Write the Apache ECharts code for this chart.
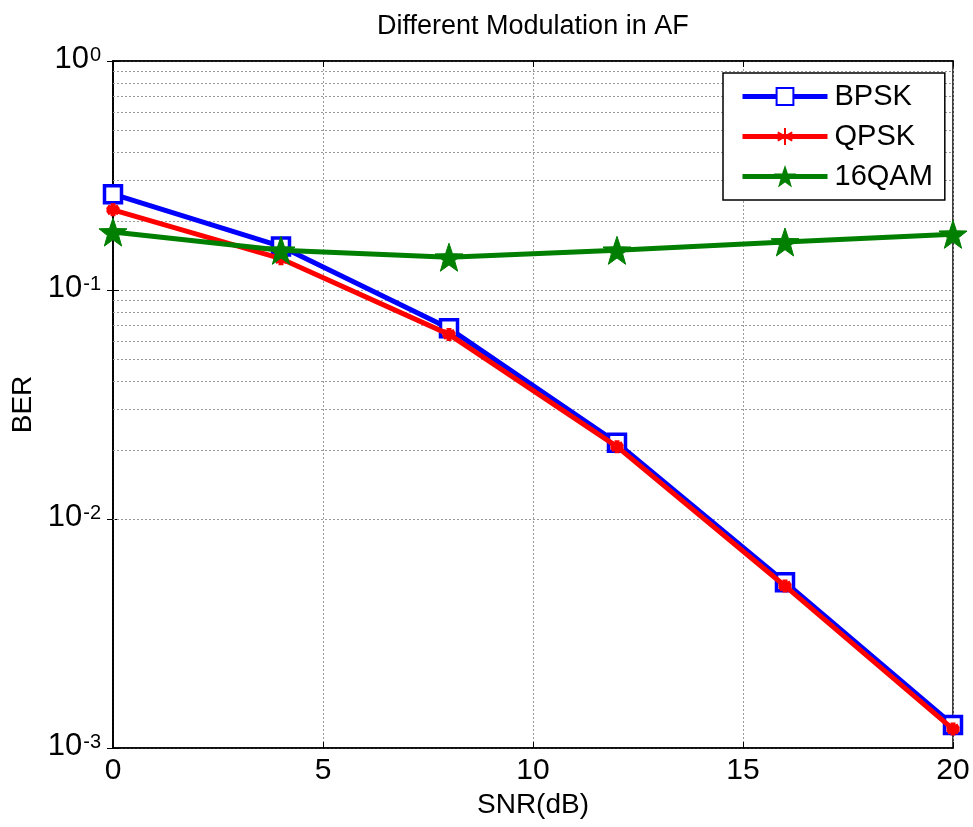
<!DOCTYPE html>
<html>
<head>
<meta charset="utf-8">
<script src="https://cdn.jsdelivr.net/npm/echarts@6/dist/echarts.min.js"></script>
<style>
  html, body { margin: 0; padding: 0; background: #fff; }
  #chart { width: 973px; height: 827px; }
</style>
</head>
<body>
<div id="chart"></div>
<script>
// SNR points (dB)
let snr = [0, 4, 8, 12, 16, 20];
let bpsk = [0.262, 0.155, 0.068, 0.0215, 0.0053, 0.00126];
let qpsk = [0.224, 0.137, 0.064, 0.0207, 0.0051, 0.00121];
let qam16 = [0.179, 0.149, 0.139, 0.149, 0.162, 0.175];
let decades = [0.001, 0.01, 0.1];
let minorSteps = [2, 3, 4, 5, 6, 7, 8, 9];

let font = "'Liberation Sans', Arial, sans-serif";

// minor grid lines of the log axis (MATLAB style)
let minorLines = [];
for (let i = 0; i < decades.length; i++) {
  for (let j = 0; j < minorSteps.length; j++) {
    minorLines.push({yAxis: +(decades[i] * minorSteps[j]).toPrecision(3)});
  }
}

function pairs(vals) {
  let out = [];
  for (let i = 0; i < snr.length; i++) {
    out.push([snr[i], vals[i]]);
  }
  return out;
}

let chart = echarts.init(document.getElementById('chart'));

let gridLine = {show: true, lineStyle: {color: '#9a9a9a', type: [2, 2], width: 1}};

let options = {
  animation: false,
  backgroundColor: '#fff',
  color: ['#999', '#0000ff', '#ff0000', '#007f00'],
  title: {
    text: 'Different Modulation in AF',
    left: 372,
    top: 8,
    textStyle: {fontFamily: font, fontWeight: 'normal', fontSize: 27, color: '#000'}
  },
  legend: {
    orient: 'vertical',
    left: 723,
    top: 73,
    z: 20,
    padding: [8, 12, 8, 17],
    backgroundColor: '#fff',
    borderColor: '#000',
    borderWidth: 1.5,
    itemWidth: 85,
    itemHeight: 21,
    itemGap: 9,
    lineStyle: {width: 5, type: 'solid'},
    textStyle: {fontFamily: font, fontSize: 29, lineHeight: 31, color: '#000', padding: [0, 0, 0, 2]},
    data: ['BPSK', 'QPSK', '16QAM']
  },
  grid: {
    left: 113,
    right: 20,
    top: 61,
    bottom: 79,
    show: true,
    borderColor: '#000',
    borderWidth: 1.5
  },
  xAxis: [{
    type: 'value',
    min: 0,
    max: 20,
    interval: 5,
    name: 'SNR(dB)',
    nameLocation: 'middle',
    nameGap: 37,
    nameTextStyle: {fontFamily: font, fontSize: 28, color: '#000'},
    axisLine: {lineStyle: {color: '#000', width: 1.5}},
    axisTick: {inside: true, length: 6, lineStyle: {color: '#000'}},
    axisLabel: {fontFamily: font, fontSize: 30, color: '#000', margin: 8},
    splitLine: gridLine
  }, {
    type: 'value',
    position: 'top',
    min: 0,
    max: 20,
    interval: 5,
    axisLine: {lineStyle: {color: '#000', width: 1.5}},
    axisTick: {inside: true, length: 6, lineStyle: {color: '#000'}},
    axisLabel: {show: false},
    splitLine: {show: false}
  }],
  yAxis: [{
    type: 'log',
    logBase: 10,
    min: 0.001,
    max: 1,
    name: 'BER',
    nameLocation: 'middle',
    nameGap: 64,
    nameTextStyle: {fontFamily: font, fontSize: 28, color: '#000'},
    axisLine: {lineStyle: {color: '#000', width: 1.5}},
    axisTick: {inside: true, length: 6, lineStyle: {color: '#000'}},
    axisLabel: {
      margin: 12,
      padding: [0, 0, 2, 0],
      formatter: function (v) {
        let e = Math.round(Math.log10(v));
        return '{b|10}{s|' + e + '}';
      },
      rich: {
        b: {fontFamily: font, fontSize: 31, color: '#000', verticalAlign: 'bottom', lineHeight: 30},
        s: {fontFamily: font, fontSize: 20, color: '#000', verticalAlign: 'top', lineHeight: 30, padding: [0, 0, 13, 1]}
      }
    },
    splitLine: gridLine
  }, {
    type: 'log',
    logBase: 10,
    min: 0.001,
    max: 1,
    position: 'right',
    axisLine: {lineStyle: {color: '#000', width: 1.5}},
    axisTick: {inside: true, length: 6, lineStyle: {color: '#000'}},
    axisLabel: {show: false},
    splitLine: {show: false}
  }],
  series: [
    {
      // carrier for the minor grid lines only
      name: 'minor',
      type: 'line',
      data: [],
      z: 1,
      markLine: {
        silent: true,
        z: 1,
        symbol: 'none',
        label: {show: false},
        lineStyle: {color: '#9a9a9a', type: [2, 2], width: 1},
        data: minorLines
      }
    },
    {
      name: 'BPSK',
      type: 'line',
      data: pairs(bpsk),
      symbol: 'rect',
      symbolSize: 17,
      z: 3,
      lineStyle: {color: '#0000ff', width: 5},
      itemStyle: {color: '#fff', borderColor: '#0000ff', borderWidth: 3.5}
    },
    {
      name: 'QPSK',
      type: 'line',
      data: pairs(qpsk),
      symbol: 'path://M0,-10L0,10M-8.7,-5L8.7,5M-8.7,5L8.7,-5M-10,0L10,0',
      symbolSize: 13,
      z: 4,
      lineStyle: {color: '#ff0000', width: 5},
      itemStyle: {color: '#ff0000', borderColor: '#ff0000', borderWidth: 5}
    },
    {
      name: '16QAM',
      type: 'line',
      data: pairs(qam16),
      symbol: 'path://M0,-10L2.35,-3.24L9.51,-3.09L3.8,1.24L5.88,8.09L0,4L-5.88,8.09L-3.8,1.24L-9.51,-3.09L-2.35,-3.24Z',
      symbolSize: 28,
      z: 5,
      lineStyle: {color: '#007f00', width: 5},
      itemStyle: {color: '#007f00', borderColor: '#007f00', borderWidth: 1}
    }
  ]
};

chart.setOption(options);
</script>
</body>
</html>
